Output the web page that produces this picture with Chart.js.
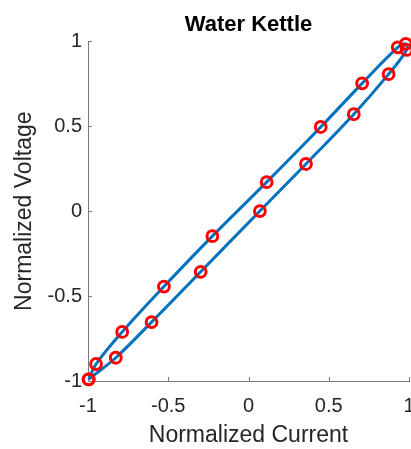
<!DOCTYPE html>
<html>
<head>
<meta charset="utf-8">
<script src="https://cdn.jsdelivr.net/npm/chart.js@4"></script>
<style>
  html, body { margin: 0; padding: 0; background: #fff; }
</style>
</head>
<body>
<canvas id="myChart" width="411" height="449"></canvas>
<script>
// measured points, one loop: upper branch going up, lower branch coming back
const currentValues = [
  -0.996, -0.95, -0.787, -0.527, -0.225, 0.113, 0.45, 0.708, 0.93, 0.98,
  0.985, 0.873, 0.656, 0.358, 0.071, -0.298, -0.604, -0.827, -0.996,
];
const voltageValues = [
  -0.99, -0.9, -0.711, -0.444, -0.147, 0.171, 0.496, 0.753, 0.965, 0.985,
  0.95, 0.807, 0.571, 0.278, 0.001, -0.357, -0.653, -0.863, -0.99,
];
const xTicks = [-1, -0.5, 0, 0.5, 1];
const yTicks = [-1, -0.5, 0, 0.5, 1];

const fontFamily = "'Liberation Sans', Arial, Helvetica, sans-serif";
const textColor = "#262626";
const axisColor = "#7a7a7a";

const points = currentValues.map((x, i) => ({ x: x, y: voltageValues[i] }));

// MATLAB style ticks that point into the plot
const inwardTicks = {
  id: "inwardTicks",
  beforeDatasetsDraw(chart) {
    const { ctx, chartArea, scales } = chart;
    ctx.save();
    ctx.strokeStyle = axisColor;
    ctx.lineWidth = 1;
    ctx.beginPath();
    xTicks.forEach((v) => {
      const px = Math.round(scales.x.getPixelForValue(v)) + 0.5;
      ctx.moveTo(px, chartArea.bottom);
      ctx.lineTo(px, chartArea.bottom - 4);
    });
    yTicks.forEach((v) => {
      const py = Math.round(scales.y.getPixelForValue(v)) + 0.5;
      ctx.moveTo(chartArea.left, py);
      ctx.lineTo(chartArea.left + 4, py);
    });
    ctx.stroke();
    ctx.restore();
  },
};

const fmt = (v) => String(v);

new Chart(document.getElementById("myChart").getContext("2d"), {
  type: "line",
  data: {
    datasets: [
      {
        label: "samples",
        data: points,
        showLine: false,
        pointStyle: "circle",
        pointRadius: 5.4,
        pointBorderWidth: 3,
        pointBorderColor: "#ff0000",
        pointBackgroundColor: "rgba(0,0,0,0)",
        clip: false,
        order: 0,
      },
      {
        label: "loop",
        data: points,
        borderColor: "#0072BD",
        borderWidth: 3,
        pointRadius: 0,
        tension: 0.35,
        fill: false,
        clip: false,
        order: 1,
      },
    ],
  },
  options: {
    responsive: false,
    animation: false,
    layout: { autoPadding: false, padding: { left: 0, right: 2, top: 0, bottom: 0 } },
    plugins: {
      legend: { display: false },
      tooltip: { enabled: false },
      title: {
        display: true,
        text: "Water Kettle",
        fullSize: false,
        color: "#000",
        font: { family: fontFamily, size: 22, weight: "bold" },
        padding: { top: 12, bottom: 3 },
      },
    },
    scales: {
      x: {
        type: "linear",
        min: -1,
        max: 1,
        afterBuildTicks: (s) => { s.ticks = xTicks.map((v) => ({ value: v })); },
        afterFit: (s) => {
          s.height = 68;
          s.paddingLeft = 0;
          s.paddingRight = 0;
        },
        grid: { display: false, drawTicks: false },
        border: { display: true, color: axisColor, width: 1 },
        ticks: {
          color: textColor,
          font: { family: fontFamily, size: 20 },
          padding: 13,
          maxRotation: 0,
          callback: fmt,
        },
        title: {
          display: true,
          text: "Normalized Current",
          color: textColor,
          font: { family: fontFamily, size: 23 },
          padding: { top: 0, bottom: 0 },
        },
      },
      y: {
        type: "linear",
        min: -1,
        max: 1,
        afterBuildTicks: (s) => { s.ticks = yTicks.map((v) => ({ value: v })); },
        afterFit: (s) => {
          s.width = 88;
          s.paddingTop = 0;
          s.paddingBottom = 0;
        },
        grid: { display: false, drawTicks: false },
        border: { display: true, color: axisColor, width: 1 },
        ticks: {
          color: textColor,
          font: { family: fontFamily, size: 20 },
          padding: 6,
          callback: fmt,
        },
        title: {
          display: true,
          text: "Normalized Voltage",
          color: textColor,
          font: { family: fontFamily, size: 23 },
          padding: { top: 11, bottom: 0 },
        },
      },
    },
  },
  plugins: [inwardTicks],
});
</script>
</body>
</html>
